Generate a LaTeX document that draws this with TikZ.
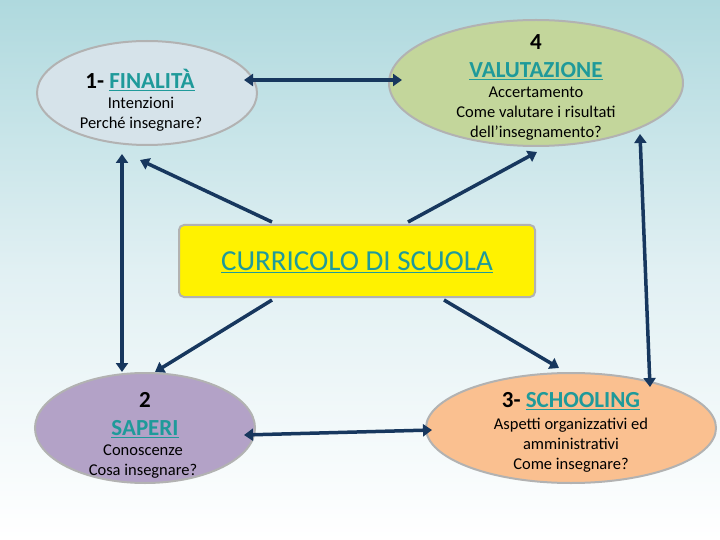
\documentclass[tikz,border=0pt]{standalone}
\usepackage{fontspec}
\setmainfont{Carlito}
\usetikzlibrary{shapes.geometric,arrows.meta}
\definecolor{navy}{HTML}{17375E}
\definecolor{teal2}{HTML}{1F9A9A}
\tikzset{
 ell/.style={ellipse,draw=gray!60,line width=2pt,inner sep=0pt},
 conn/.style={navy,line width=3.5pt,-{Triangle[length=9pt,width=12pt]}},
 dconn/.style={navy,line width=3.5pt,{Triangle[length=9pt,width=12pt]}-{Triangle[length=9pt,width=12pt]}},
 lnk/.style={teal2},
 head/.style={font=\fontsize{23}{28}\selectfont\bfseries,align=center},
 sub/.style={font=\fontsize{16.5}{20}\selectfont,align=center}
}
\newcommand{\ul}[1]{\underline{#1}}
\begin{document}
\begin{tikzpicture}[x=1pt,y=-1pt]
\useasboundingbox (0,0) rectangle (720,540);
\shade[top color={rgb,255:red,175;green,217;blue,222},bottom color=white,middle color={rgb,255:red,225;green,240;blue,243}] (0,0) rectangle (720,540);
\node[ell,fill={rgb,255:red,214;green,227;blue,234},minimum width=220pt,minimum height=104pt] (fin) at (147,93) {};
\node[ell,fill={rgb,255:red,195;green,214;blue,155},minimum width=294pt,minimum height=126pt] (val) at (536,83) {};
\node[ell,fill={rgb,255:red,179;green,162;blue,199},minimum width=220pt,minimum height=110pt] (sap) at (145,428) {};
\node[ell,fill={rgb,255:red,250;green,192;blue,144},minimum width=290pt,minimum height=110pt] (sch) at (571,428) {};
\node[draw=gray!60,line width=2pt,fill=yellow,rounded corners=5pt,minimum width=356pt,minimum height=72pt] (cur) at (357,261) {};
\node[lnk,font=\fontsize{29}{32}\selectfont] (curt) at (357,262) {\ul{CURRICOLO DI SCUOLA}};
% texts
\node[head] (t1) at (140,80) {1- \textcolor{teal2}{\ul{FINALITÀ}}};
\node[sub] (t1b) at (141,114) {Intenzioni\\Perché insegnare?};
\node[head] (t4) at (536,57) {4\\\textcolor{teal2}{\ul{VALUTAZIONE}}};
\node[sub] (t4b) at (536,114) {Accertamento\\Come valutare i risultati\\dell’insegnamento?};
\node[head] (t2) at (145,415) {2\\\textcolor{teal2}{\ul{SAPERI}}};
\node[sub] (t2b) at (143,462) {Conoscenze\\Cosa insegnare?};
\node[head] (t3) at (571,401) {3- \textcolor{teal2}{\ul{SCHOOLING}}};
\node[sub] (t3b) at (571,445) {Aspetti organizzativi ed\\amministrativi\\Come insegnare?};
% coordinates
\coordinate (a1) at (244,80); \coordinate (a2) at (402,80);
\coordinate (b1) at (122,154); \coordinate (b2) at (122,372);
\coordinate (c1) at (640,134); \coordinate (c2) at (650,387);
\coordinate (d1) at (244,435); \coordinate (d2) at (432,430);
\coordinate (e0) at (272,222); \coordinate (e1) at (140,160);
\coordinate (f0) at (408,222); \coordinate (f1) at (537,152);
\coordinate (g0) at (272,300); \coordinate (g1) at (155,372);
\coordinate (h0) at (444,300); \coordinate (h1) at (559,368);
\draw[dconn] (a1) -- (a2);
\draw[dconn] (b1) -- (b2);
\draw[dconn] (c1) -- (c2);
\draw[dconn] (d1) -- (d2);
\draw[conn] (e0) -- (e1);
\draw[conn] (f0) -- (f1);
\draw[conn] (g0) -- (g1);
\draw[conn] (h0) -- (h1);
\end{tikzpicture}
\end{document}
